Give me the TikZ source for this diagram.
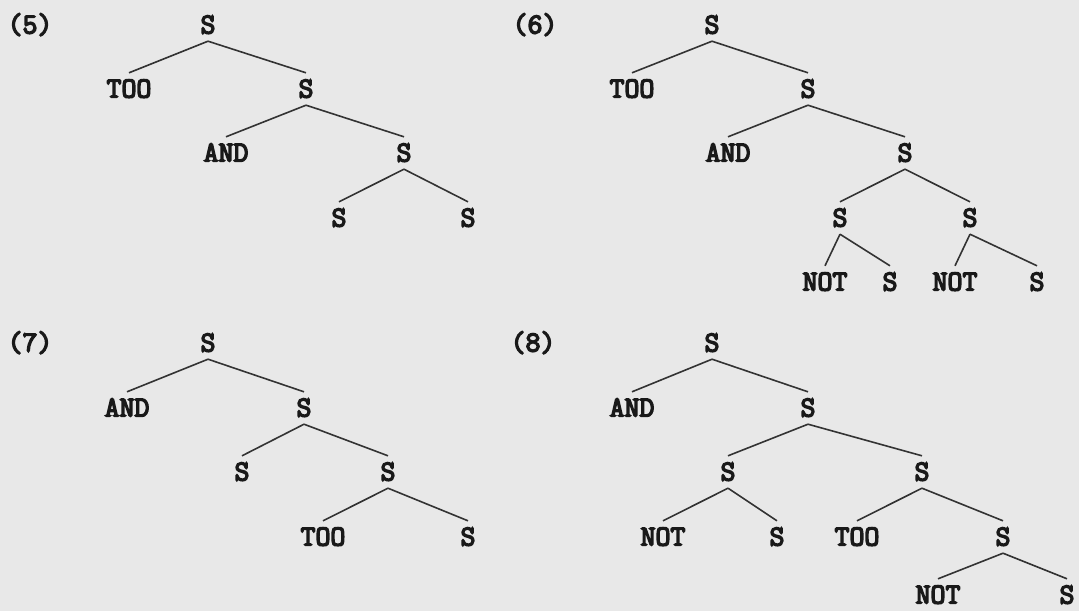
\documentclass[tikz,border=0pt]{standalone}
\usepackage{fontspec}
\newfontfamily\typewr{Latin Modern Mono}[FakeBold=5]
\usepackage{tikz}

\begin{document}
\begin{tikzpicture}[x=1pt,y=-1pt,
  wd/.style={font=\typewr\fontsize{29}{29}\selectfont,text=black!90,
    inner xsep=1pt,inner ysep=7.5pt,text height=17pt,text depth=0pt},
  br/.style={draw=black!80,line width=1.6pt}]
\useasboundingbox[fill=black!9] (0,0) rectangle (1079,611);
% (5)
\node[wd] (n5) at (30,25) {(5)};
\node[wd] (a0) at (208,25) {S};
\node[wd] (a1) at (129,89) {TOO};
\node[wd] (a2) at (306,89) {S};
\node[wd] (a3) at (226,153) {AND};
\node[wd] (a4) at (404,153) {S};
\node[wd] (a5) at (339,218) {S};
\node[wd] (a6) at (468,218) {S};
\path[br] (a0.south) edge (a1.north) (a0.south) edge (a2.north)
  (a2.south) edge (a3.north) (a2.south) edge (a4.north)
  (a4.south) edge (a5.north) (a4.south) edge (a6.north);
% (6)
\node[wd] (n6) at (535,25) {(6)};
\node[wd] (b0) at (712,25) {S};
\node[wd] (b1) at (632,89) {TOO};
\node[wd] (b2) at (808,89) {S};
\node[wd] (b3) at (728,153) {AND};
\node[wd] (b4) at (905,153) {S};
\node[wd] (b5) at (840,218) {S};
\node[wd] (b6) at (970,218) {S};
\node[wd] (b7) at (825,282) {NOT};
\node[wd] (b8) at (890,282) {S};
\node[wd] (b9) at (955,282) {NOT};
\node[wd] (b10) at (1037,282) {S};
\path[br] (b0.south) edge (b1.north) (b0.south) edge (b2.north)
  (b2.south) edge (b3.north) (b2.south) edge (b4.north)
  (b4.south) edge (b5.north) (b4.south) edge (b6.north)
  (b5.south) edge (b7.north) (b5.south) edge (b8.north)
  (b6.south) edge (b9.north) (b6.south) edge (b10.north);
% (7)
\node[wd] (n7) at (30,343) {(7)};
\node[wd] (c0) at (208,343) {S};
\node[wd] (c1) at (127,408) {AND};
\node[wd] (c2) at (304,408) {S};
\node[wd] (c3) at (242,472) {S};
\node[wd] (c4) at (388,472) {S};
\node[wd] (c5) at (323,537) {TOO};
\node[wd] (c6) at (468,537) {S};
\path[br] (c0.south) edge (c1.north) (c0.south) edge (c2.north)
  (c2.south) edge (c3.north) (c2.south) edge (c4.north)
  (c4.south) edge (c5.north) (c4.south) edge (c6.north);
% (8)
\node[wd] (n8) at (533,343) {(8)};
\node[wd] (d0) at (712,343) {S};
\node[wd] (d1) at (632,408) {AND};
\node[wd] (d2) at (808,408) {S};
\node[wd] (d3) at (728,472) {S};
\node[wd] (d4) at (922,472) {S};
\node[wd] (d5) at (663,537) {NOT};
\node[wd] (d6) at (777,537) {S};
\node[wd] (d7) at (857,537) {TOO};
\node[wd] (d8) at (1003,537) {S};
\node[wd] (d9) at (938,595) {NOT};
\node[wd] (d10) at (1067,595) {S};
\path[br] (d0.south) edge (d1.north) (d0.south) edge (d2.north)
  (d2.south) edge (d3.north) (d2.south) edge (d4.north)
  (d3.south) edge (d5.north) (d3.south) edge (d6.north)
  (d4.south) edge (d7.north) (d4.south) edge (d8.north)
  (d8.south) edge (d9.north) (d8.south) edge (d10.north);
\end{tikzpicture}
\end{document}
